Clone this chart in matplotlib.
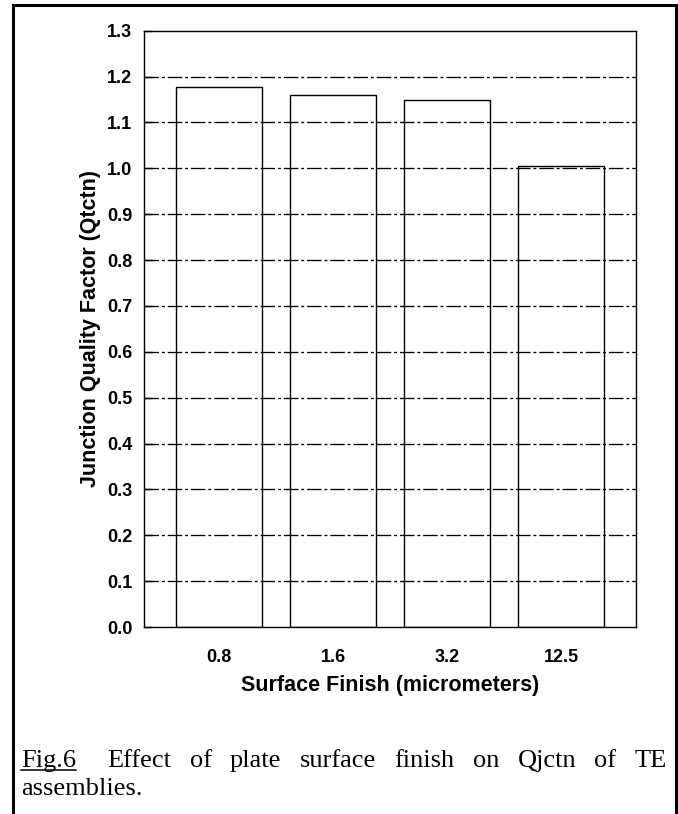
import matplotlib
matplotlib.use('Agg')
import matplotlib.pyplot as plt
from matplotlib.lines import Line2D
import numpy as np

categories = ['0.8', '1.6', '3.2', '12.5']
values = [1.178, 1.160, 1.148, 1.004]
yticks = [0.0, 0.1, 0.2, 0.3, 0.4, 0.5, 0.6, 0.7, 0.8, 0.9, 1.0, 1.1, 1.2, 1.3]
ytick_labels = ['0.0', '0.1', '0.2', '0.3', '0.4', '0.5', '0.6', '0.7', '0.8', '0.9', '1.0', '1.1', '1.2', '1.3']
xlabel = 'Surface Finish (micrometers)'
ylabel = 'Junction Quality Factor (Qtctn)'
caption_line1 = ['Fig.6', 'Effect', 'of', 'plate', 'surface', 'finish', 'on', 'Qjctn', 'of', 'TE']
caption_line2 = 'assemblies.'

W, H = 678, 814
fig = plt.figure(figsize=(W / 100, H / 100), dpi=100)
fig.patch.set_facecolor('white')

ax_l, ax_r, ax_t, ax_b = 144.3, 635.7, 30.7, 627.0
aw, ah = ax_r - ax_l, ax_b - ax_t
ax = fig.add_axes([ax_l / W, 1 - ax_b / H, aw / W, ah / H])

x = np.arange(len(categories))
ax.bar(x, values, width=0.75, color='white', edgecolor='black', linewidth=1.0, zorder=2)
ax.set_xlim(-0.657, 3.655)
ax.set_ylim(0, 1.3)

for v in yticks[1:-1]:
    ax.axhline(v, color='black', lw=0.95, ls=(0, (11, 2.2, 2.2, 2.2)), zorder=3)

tick_font = dict(family='Liberation Sans', weight='bold', size=13)
ax.set_yticks(yticks)
ax.set_yticklabels(ytick_labels, fontdict=tick_font)
ax.set_xticks(x)
ax.set_xticklabels(categories, fontdict=tick_font)
ax.tick_params(axis='y', direction='in', length=6, width=1.0, pad=8.5, left=True, right=False)
ax.tick_params(axis='x', direction='in', length=7, width=1.0, pad=16, top=False)

for s in ax.spines.values():
    s.set_linewidth(1.0)
    s.set_zorder(4)

label_font = dict(family='Liberation Sans', weight='bold', size=15.5)
ax.set_xlabel(xlabel, fontdict=label_font)
ax.xaxis.label.set_va('baseline')
ax.xaxis.set_label_coords(0.5, (ax_b - 690.7) / ah)
ax.set_ylabel(ylabel, fontdict=label_font)
ax.yaxis.label.set_va('baseline')
ax.yaxis.set_label_coords((96.0 - ax_l) / aw, 0.5)

# outer frame (open at bottom)
bx_l, bx_r, by_t = 13, 676, 5
fig.add_artist(Line2D([bx_l / W, bx_l / W, bx_r / W, bx_r / W],
                      [0, 1 - by_t / H, 1 - by_t / H, 0],
                      transform=fig.transFigure, color='black', lw=2.2,
                      solid_joinstyle='miter'))

# caption, justified
cap_font = dict(family='Liberation Serif', size=19)
y1 = 1 - 767 / H
y2 = 1 - 795 / H
x_left, x_right = 21, 667
texts = [fig.text(0, y1, w, va='baseline', ha='left', **cap_font) for w in caption_line1]
fig.canvas.draw()
r = fig.canvas.get_renderer()
widths = [t.get_window_extent(r).width for t in texts]
weights = [1.7] + [1.0] * (len(texts) - 2)
gap = (x_right - x_left - sum(widths)) / sum(weights)
pos = x_left
for i, (t, w) in enumerate(zip(texts, widths)):
    t.set_x(pos / W)
    if i == 0:
        fig.add_artist(Line2D([pos / W, (pos + w) / W], [1 - 769.5 / H, 1 - 769.5 / H],
                              transform=fig.transFigure, color='black', lw=1.1))
    if i < len(weights):
        pos += w + gap * weights[i]
fig.text(x_left / W, y2, caption_line2, va='baseline', ha='left', **cap_font)

fig.savefig('out.png', dpi=100)
